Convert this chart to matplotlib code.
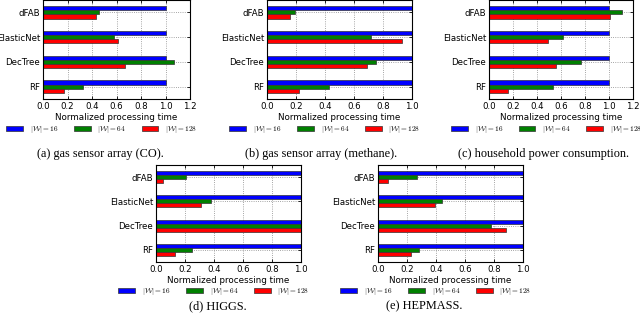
import matplotlib
matplotlib.use('Agg')
import matplotlib.pyplot as plt
import numpy as np

plt.rcParams['mathtext.fontset'] = 'cm'

# categories top to bottom
methods = ['dFAB', 'ElasticNet', 'DecTree', 'RF']
series_labels = [r'$|\mathcal{W}|=16$', r'$|\mathcal{W}|=64$', r'$|\mathcal{W}|=128$']
colors = ['#0000ff', '#008000', '#ff0000']

co_16 = [1.0, 1.0, 1.0, 1.0]
co_64 = [0.46, 0.58, 1.07, 0.33]
co_128 = [0.43, 0.61, 0.67, 0.17]

methane_16 = [1.0, 1.0, 1.0, 1.0]
methane_64 = [0.19, 0.72, 0.75, 0.43]
methane_128 = [0.16, 0.93, 0.69, 0.22]

power_16 = [1.0, 1.0, 1.0, 1.0]
power_64 = [1.11, 0.62, 0.77, 0.53]
power_128 = [1.01, 0.49, 0.56, 0.16]

higgs_16 = [1.0, 1.0, 1.0, 1.0]
higgs_64 = [0.21, 0.38, 1.0, 0.25]
higgs_128 = [0.05, 0.31, 1.0, 0.13]

hepmass_16 = [1.0, 1.0, 1.0, 1.0]
hepmass_64 = [0.27, 0.44, 0.78, 0.28]
hepmass_128 = [0.07, 0.39, 0.88, 0.23]

captions = ['(a) gas sensor array (CO).', '(b) gas sensor array (methane).',
            '(c) household power consumption.', '(d) HIGGS.', '(e) HEPMASS.']

W, H = 640, 325
fig = plt.figure(figsize=(6.4, 3.25), dpi=100)


def px_axes(left, right, top, bottom):
    return fig.add_axes([left / W, (H - bottom) / H, (right - left) / W, (bottom - top) / H])


def panel(ax, s16, s64, s128, xmax):
    pos = np.arange(len(methods))[::-1]  # dFAB on top
    h = 0.165
    for vals, off, c, lab in zip([s16, s64, s128], [h, 0, -h], colors, series_labels):
        ax.barh(pos + off, vals, height=h, color=c, edgecolor='#333333',
                linewidth=0.5, label=lab, zorder=2)
    ax.set_yticks(pos)
    ax.set_yticklabels(methods)
    ax.set_ylim(-0.5, 3.5)
    ax.set_xlim(0, xmax)
    ticks = np.arange(0, xmax + 0.01, 0.2)
    ax.set_xticks(ticks)
    ax.set_xticklabels(['%.1f' % t for t in ticks])
    ax.grid(True, linestyle=':', color='#888888', linewidth=0.6, zorder=0)
    ax.set_axisbelow(True)
    ax.tick_params(labelsize=6.2, direction='in', length=2.5, width=0.6,
                   top=True, right=True, pad=2)
    for sp in ax.spines.values():
        sp.set_linewidth(0.8)
    ax.set_xlabel('Normalized processing time', fontsize=6.3, labelpad=1.5)
    ax.legend(loc='center', bbox_to_anchor=(0.40, -0.305), ncol=3, frameon=False,
              fontsize=5.3, handlelength=2.3, handleheight=0.7, handletextpad=0.9,
              columnspacing=2.1, borderaxespad=0)


ax_a = px_axes(43, 190, 0, 99)
panel(ax_a, co_16, co_64, co_128, 1.2)
ax_b = px_axes(267, 412, 0, 99)
panel(ax_b, methane_16, methane_64, methane_128, 1.0)
ax_c = px_axes(489, 633, 0, 99)
panel(ax_c, power_16, power_64, power_128, 1.2)
ax_d = px_axes(156, 301, 165, 262)
panel(ax_d, higgs_16, higgs_64, higgs_128, 1.0)
ax_e = px_axes(378, 523, 165, 262)
panel(ax_e, hepmass_16, hepmass_64, hepmass_128, 1.0)

cap_pos = [(100, 154), (321, 154), (543, 154), (218, 306), (424, 306)]
for (cx, cy), txt in zip(cap_pos, captions):
    fig.text(cx / W, (H - cy) / H, txt, ha='center', va='center',
             fontsize=8.8, family='Liberation Serif')

fig.savefig('out.png', dpi=100)
